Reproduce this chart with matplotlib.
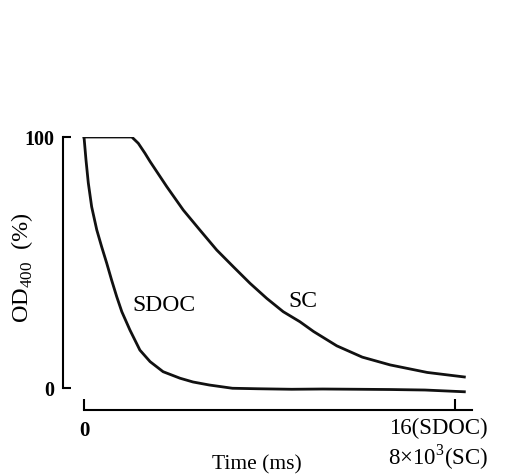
import matplotlib
matplotlib.use("Agg")
import matplotlib.pyplot as plt

# ---- data ----
sdoc_t = [0, 0.086, 0.185, 0.33, 0.55, 0.76, 0.98, 1.19, 1.41, 1.63, 1.98, 2.41, 2.85, 3.41, 4.14,
          4.7, 5.4, 6.4, 7.5, 8.95, 10.3, 11.8, 13.2, 14.7, 16.4]
sdoc_y = [100, 90.8, 81.7, 72.2, 63, 56.3, 49.7, 43, 36.4, 30.4, 23.1, 15.1, 10.5, 6.5, 3.9,
          2.4, 1.2, -0.1, -0.3, -0.5, -0.4, -0.5, -0.6, -0.8, -1.5]

sc_t = [0, 2.06, 2.34, 2.63, 2.85, 3.57, 4.28, 5.0, 5.72, 6.44, 7.16, 7.88, 8.59, 9.31, 9.9,
        10.9, 12.0, 13.2, 14.8, 16.4]
sc_y = [100, 100, 97.5, 93.5, 90.2, 80.2, 70.9, 62.9, 55.0, 48.3, 41.7, 35.7, 30.4, 26.4, 22.5,
        16.8, 12.3, 9.2, 6.2, 4.4]

y_ticks = [0, 100]
y_ticklabels = ["0", "100"]
x_ticks = [0, 16]
x_ticklabels = ["0", ""]
x_end_label = "16(SDOC)\n8\u00d710$^3$(SC)"
curve_labels = ["SDOC", "SC"]

plt.rcParams['font.family'] = ['Liberation Serif', 'DejaVu Serif']
plt.rcParams['mathtext.fontset'] = 'custom'
plt.rcParams['mathtext.rm'] = 'Liberation Serif'

W, H = 514, 475
fig = plt.figure(figsize=(W / 100, H / 100), dpi=100)
ax_l, ax_r, ax_t, ax_b = 63, 472, 137, 410
ax = fig.add_axes([ax_l / W, 1 - ax_b / H, (ax_r - ax_l) / W, (ax_b - ax_t) / H])

ax.plot(sdoc_t, sdoc_y, color='#111111', lw=2.0, solid_joinstyle='round')
ax.plot(sc_t, sc_y, color='#111111', lw=2.0, solid_joinstyle='round')

ax.set_xlim(-0.906, 16.73)
ax.set_ylim(-8.76, 100)

for s in ['top', 'right']:
    ax.spines[s].set_visible(False)
ax.spines['left'].set_bounds(0, 100)
ax.spines['bottom'].set_bounds(0, 16.73)
ax.spines['left'].set_linewidth(1.5)
ax.spines['bottom'].set_linewidth(1.5)

ax.set_yticks(y_ticks)
ax.set_yticklabels(y_ticklabels, fontsize=14.5, fontweight='bold')
ax.tick_params(axis='y', direction='in', length=6, width=1.5, pad=6)
ax.set_xticks(x_ticks)
ax.set_xticklabels(x_ticklabels, fontsize=15, fontweight='bold')
ax.tick_params(axis='x', direction='in', length=8, width=1.5, pad=8)

ax.annotate(x_end_label, xy=(438 / W, 1 - 418 / H), xycoords='figure fraction',
            ha='center', va='top', fontsize=16.5, linespacing=1.15)

ax.text(2.07, 32.7, curve_labels[0], fontsize=17, ha='left', va='center')
ax.text(8.8, 34.3, curve_labels[1], fontsize=17, ha='left', va='center')

fig.text(257 / W, 1 - 465 / H, "Time (ms)", fontsize=15.5, ha='center', va='center')
fig.text(22 / W, 1 - 268 / H, "OD$_{400}$  (%)", fontsize=17.5, ha='center', va='center', rotation=90)

fig.savefig("out.png", dpi=100, facecolor='white')
